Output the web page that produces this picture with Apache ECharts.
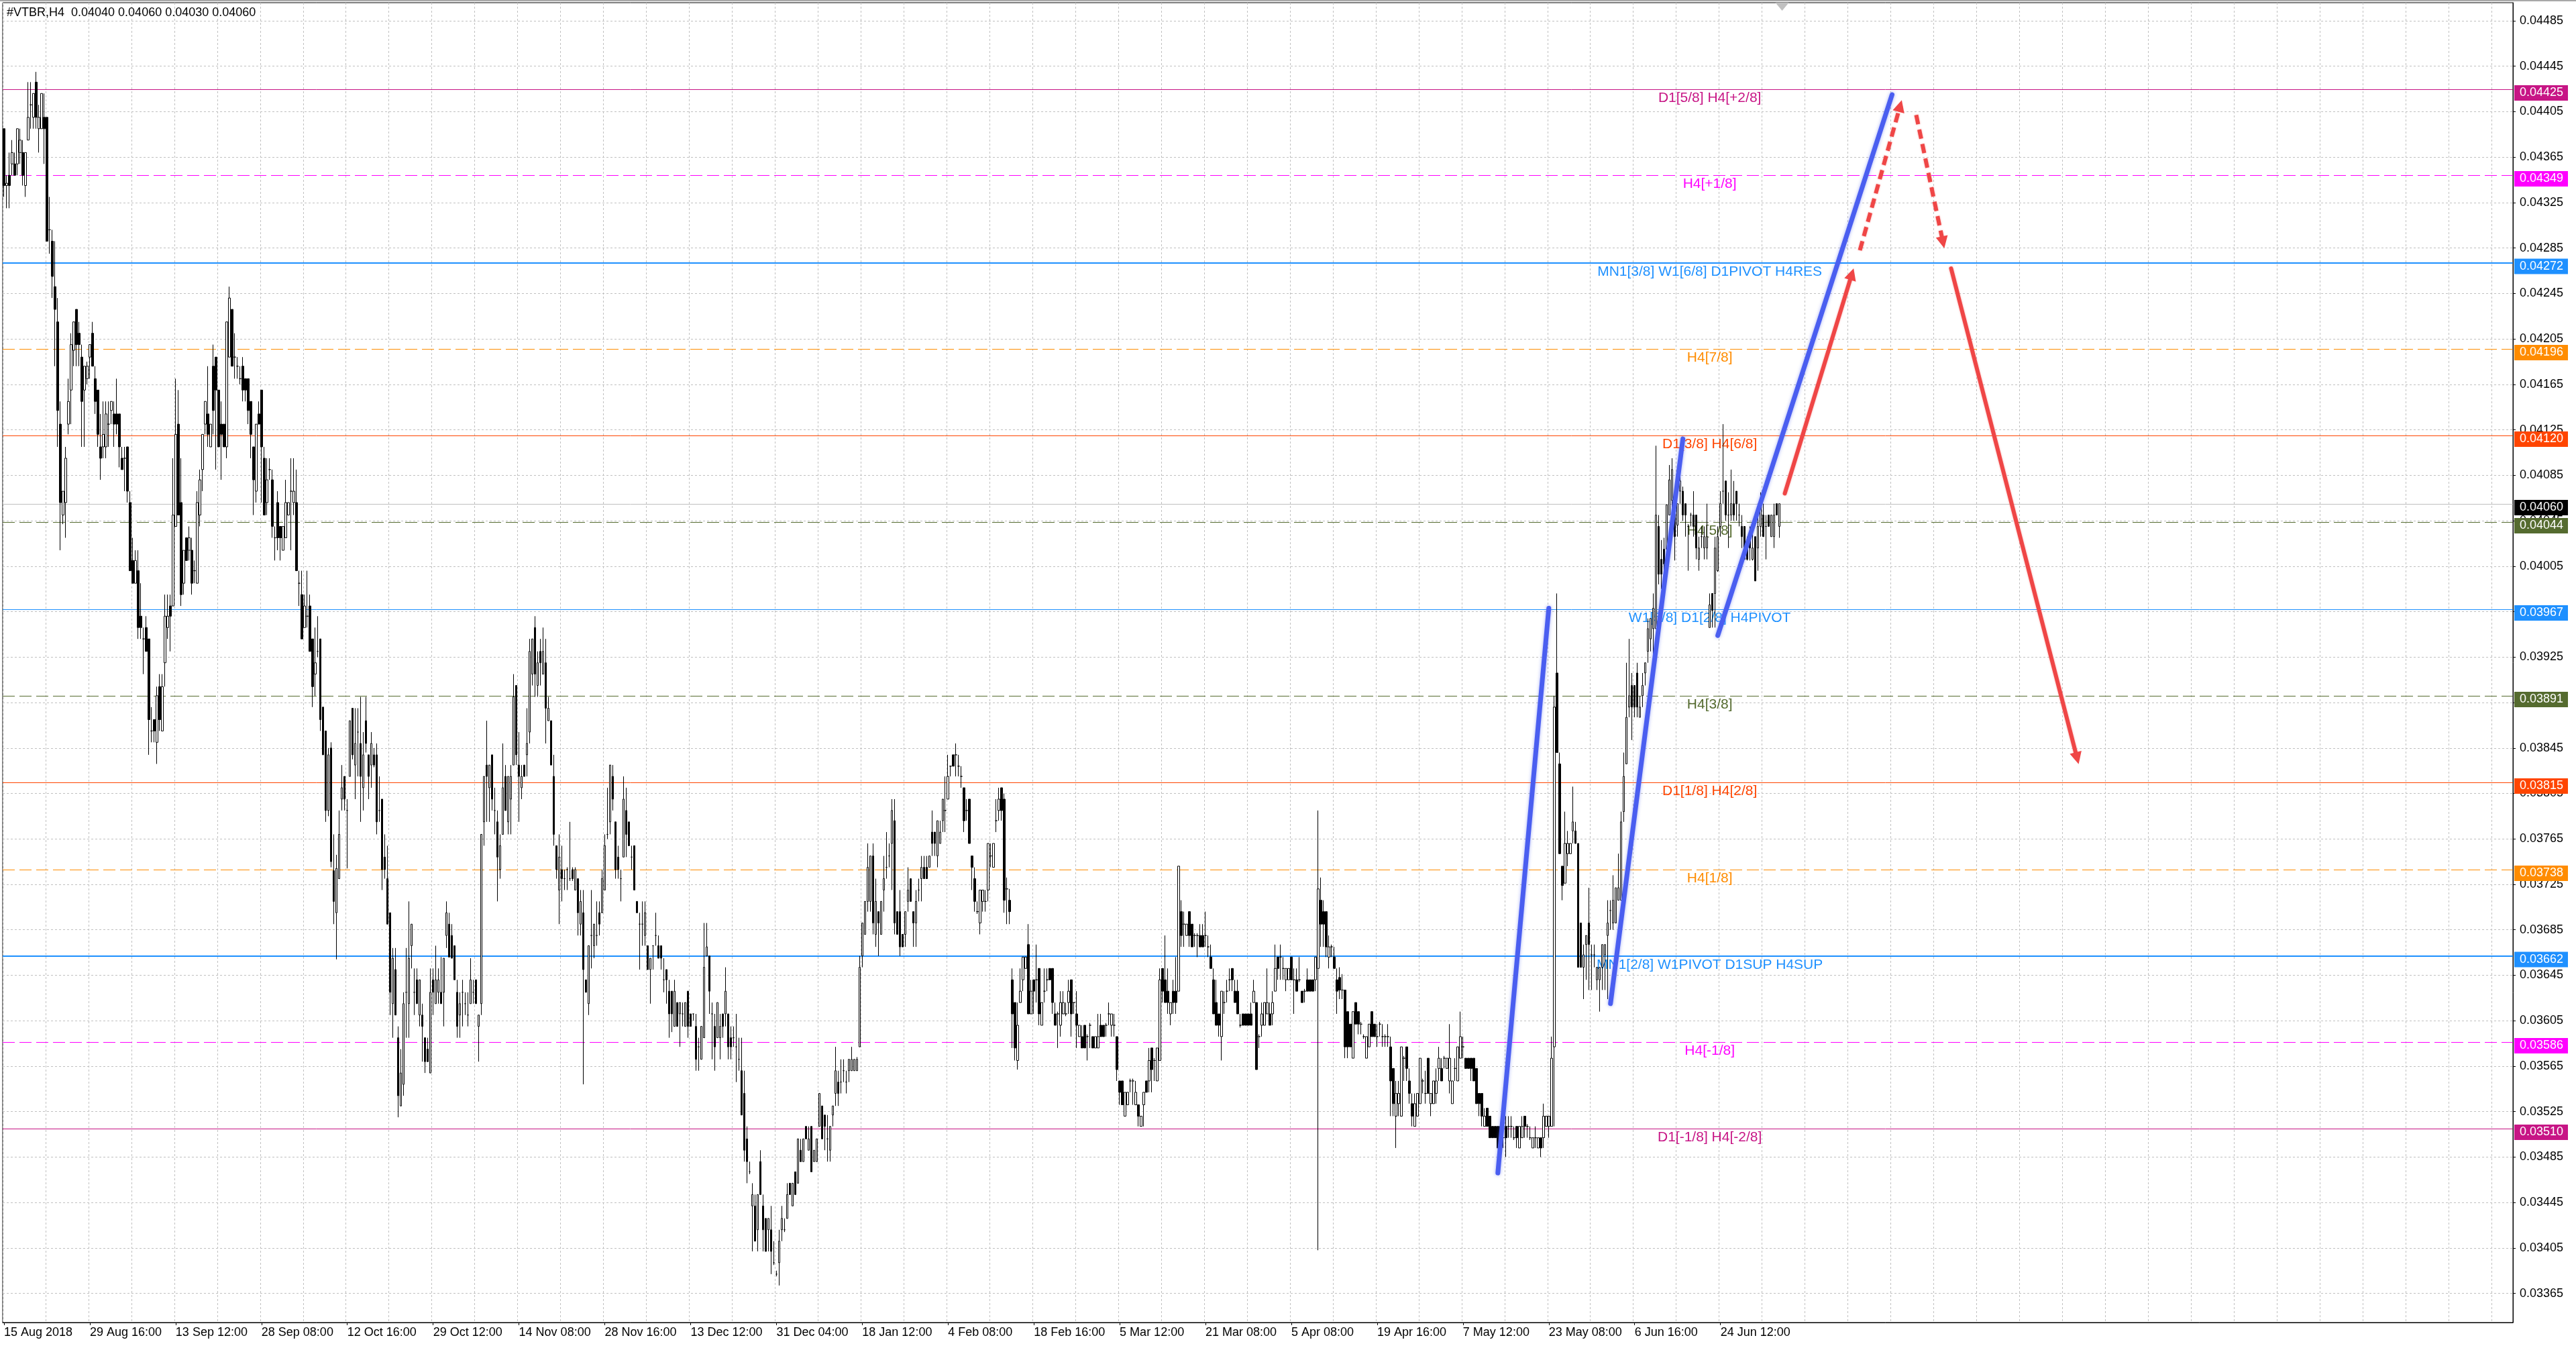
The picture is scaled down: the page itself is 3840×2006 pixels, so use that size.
<!DOCTYPE html>
<html>
<head>
<meta charset="utf-8">
<title>#VTBR,H4</title>
<script src="https://cdn.jsdelivr.net/npm/echarts@6/dist/echarts.min.js"></script>
<style>
  html, body { margin: 0; padding: 0; background: #fff; }
  #chart { width: 3840px; height: 2006px; }
  #frame { position: absolute; left: 0; top: 0; width: 3840px; height: 2px; background: #a8a8a8; }
</style>
</head>
<body>
<div id="chart"></div>
<div id="frame"></div>
<script>
// H4 bars, prices in units of 0.00001 (4040 = 0.04040)
const barOpen = [
  4390,4340,4349,4359,4359,4359,4369,4369,4340,4380,
  4411,4400,4431,4390,4390,4400,4400,4301,4291,4251,
  4220,4130,4050,4061,4130,4160,4195,4231,4210,4189,
  4160,4170,4189,4210,4170,4160,4110,4110,4110,4130,
  4142,4139,4139,4139,4100,4100,4110,4061,4010,3990,
  4001,3961,3941,3951,3941,3860,3870,3850,3899,3860,
  3920,3951,3970,3970,4040,4130,4061,3990,4030,4019,
  4019,4001,3990,4050,4090,4130,4139,4110,4181,4189,
  4160,4130,4130,4110,4189,4231,4189,4181,4170,4181,
  4170,4170,4150,4110,4071,4139,4160,4100,4061,4090,
  4081,4030,4061,4040,4019,4030,4050,4071,4061,4061,
  3990,3980,3951,3961,3970,3941,3910,3930,3941,3881,
  3860,3790,3845,3737,3700,3730,3800,3820,3790,3820,
  3880,3830,3859,3849,3810,3869,3839,3830,3839,3839,
  3790,3800,3749,3730,3700,3620,3650,3590,3530,3549,
  3630,3620,3671,3630,3641,3610,3610,3590,3580,3559,
  3641,3620,3630,3630,3630,3680,3690,3680,3671,3630,
  3610,3630,3620,3610,3620,3630,3641,3600,3620,3780,
  3830,3810,3839,3790,3780,3738,3769,3820,3780,3800,
  3830,3900,3830,3810,3830,3839,3859,3910,3951,3900,
  3930,3910,3920,3869,3869,3820,3759,3720,3738,3730,
  3738,3730,3738,3720,3730,3690,3700,3641,3620,3680,
  3671,3680,3700,3700,3720,3769,3780,3820,3780,3749,
  3730,3749,3790,3780,3749,3759,3710,3690,3690,3680,
  3671,3650,3671,3680,3671,3671,3641,3650,3631,3631,
  3600,3621,3611,3611,3600,3631,3611,3611,3600,3582,
  3571,3590,3662,3662,3611,3600,3590,3590,3611,3611,
  3611,3590,3590,3582,3571,3561,3541,3501,3472,3442,
  3442,3421,3481,3442,3431,3421,3421,3392,3382,3392,
  3421,3421,3431,3462,3442,3472,3462,3491,3481,3512,
  3491,3512,3481,3481,3512,3530,3522,3501,3491,3522,
  3541,3551,3551,3561,3551,3561,3561,3561,3561,3582,
  3662,3681,3710,3710,3750,3681,3701,3681,3720,3740,
  3750,3761,3781,3701,3701,3681,3681,3710,3730,3701,
  3691,3720,3730,3740,3740,3740,3771,3771,3750,3761,
  3781,3790,3800,3829,3839,3839,3829,3820,3810,3790,
  3800,3750,3730,3701,3691,3710,3710,3720,3750,3740,
  3781,3790,3810,3800,3721,3711,3641,3621,3570,3621,
  3641,3651,3672,3611,3641,3641,3651,3601,3631,3641,
  3651,3651,3611,3611,3601,3611,3611,3621,3641,3621,
  3611,3591,3591,3601,3591,3601,3591,3581,3581,3601,
  3601,3601,3611,3601,3601,3591,3552,3552,3521,3531,
  3552,3552,3531,3531,3512,3531,3552,3552,3581,3570,
  3552,3570,3651,3641,3631,3611,3631,3631,3631,3701,
  3690,3680,3701,3690,3680,3680,3680,3680,3680,3670,
  3661,3641,3621,3611,3591,3621,3631,3641,3651,3631,
  3631,3601,3611,3611,3611,3611,3621,3621,3591,3601,
  3601,3611,3611,3611,3631,3661,3661,3651,3641,3641,
  3661,3641,3641,3641,3631,3631,3641,3641,3641,3641,
  3651,3711,3701,3701,3661,3670,3661,3641,3643,3632,
  3632,3613,3602,3572,3621,3613,3602,3591,3572,3582,
  3613,3602,3591,3602,3591,3591,3591,3582,3563,3521,
  3532,3521,3572,3582,3552,3532,3512,3521,3532,3552,
  3541,3572,3532,3532,3541,3563,3563,3572,3563,3552,
  3532,3563,3552,3572,3582,3572,3572,3572,3572,3563,
  3541,3541,3512,3528,3521,3512,3512,3512,3512,3502,
  3512,3512,3512,3502,3512,3493,3502,3521,3512,3502,
  3493,3502,3493,3502,3502,3512,3512,3512,3582,3911,
  3831,3741,3726,3752,3752,3772,3772,3761,3691,3652,
  3672,3691,3663,3663,3641,3641,3652,3663,3680,3702,
  3691,3691,3711,3711,3789,3831,3881,3900,3900,3911,
  3872,3891,3911,3930,3941,3950,3950,4040,4011,4020,
  4020,4050,4063,4060,4041,4071,4071,4060,4040,4050,
  4050,4050,4011,4031,4021,4021,3951,3981,3981,4001,
  4040,4071,4080,4050,4050,4060,4071,4050,4040,4040,
  4021,4031,4011,4031,4021,4040,4050,4040,4050,4031,
  4031,4060,4040
];
const barClose = [
  4340,4342,4340,4369,4349,4390,4380,4349,4369,4400,
  4411,4421,4400,4400,4421,4390,4291,4301,4260,4231,
  4142,4061,4071,4100,4150,4200,4220,4200,4200,4150,
  4181,4181,4200,4181,4150,4121,4100,4121,4139,4130,
  4150,4130,4130,4110,4090,4100,4071,4001,3990,4010,
  3951,3951,3941,3930,3870,3860,3860,3891,3870,3899,
  3961,3961,3961,4050,4121,4050,3980,4019,4010,4030,
  3990,4001,4061,4081,4121,4150,4121,4130,4142,4160,
  4110,4121,4110,4220,4241,4181,4189,4181,4170,4160,
  4160,4142,4121,4081,4130,4130,4110,4050,4081,4090,
  4040,4030,4030,4030,4040,4061,4061,4071,4071,4001,
  3990,3941,3970,3961,3930,3899,3920,3930,3870,3839,
  3790,3839,3745,3710,3739,3769,3810,3800,3790,3869,
  3839,3849,3859,3820,3839,3849,3820,3849,3830,3780,
  3790,3738,3738,3690,3630,3660,3610,3539,3559,3620,
  3630,3660,3690,3630,3620,3641,3600,3569,3569,3630,
  3630,3641,3641,3620,3660,3700,3661,3660,3641,3600,
  3620,3630,3620,3610,3641,3630,3620,3610,3769,3820,
  3820,3830,3800,3790,3749,3759,3810,3790,3820,3820,
  3890,3839,3820,3820,3820,3849,3930,3941,3910,3920,
  3920,3930,3880,3880,3830,3769,3738,3749,3730,3730,
  3738,3730,3730,3738,3700,3710,3650,3630,3671,3680,
  3690,3680,3690,3730,3759,3769,3830,3800,3738,3738,
  3730,3800,3769,3759,3749,3720,3700,3690,3690,3700,
  3650,3660,3671,3680,3660,3660,3641,3641,3611,3611,
  3631,3600,3621,3611,3621,3600,3600,3611,3571,3582,
  3600,3652,3670,3631,3611,3582,3621,3600,3600,3631,
  3582,3582,3590,3582,3571,3522,3491,3481,3472,3452,
  3411,3452,3452,3421,3402,3431,3402,3392,3382,3411,
  3431,3421,3452,3452,3462,3452,3501,3481,3501,3501,
  3501,3472,3491,3501,3541,3501,3512,3501,3512,3530,
  3561,3541,3551,3561,3551,3571,3571,3571,3571,3652,
  3691,3710,3740,3750,3691,3710,3691,3710,3730,3740,
  3750,3790,3691,3681,3670,3670,3701,3720,3710,3691,
  3710,3720,3740,3730,3730,3750,3761,3761,3781,3771,
  3800,3790,3820,3829,3829,3839,3829,3820,3781,3790,
  3761,3740,3710,3701,3720,3720,3710,3761,3750,3761,
  3781,3800,3790,3711,3721,3701,3611,3581,3601,3631,
  3661,3661,3611,3631,3631,3641,3611,3621,3631,3641,
  3641,3621,3601,3611,3621,3621,3611,3631,3611,3621,
  3601,3601,3581,3581,3591,3601,3581,3591,3591,3591,
  3591,3601,3611,3611,3601,3562,3542,3531,3542,3542,
  3552,3552,3542,3521,3521,3542,3542,3570,3562,3570,
  3581,3641,3631,3621,3621,3621,3621,3621,3741,3680,
  3690,3690,3680,3670,3680,3680,3670,3670,3680,3670,
  3651,3611,3601,3601,3631,3621,3631,3641,3641,3621,
  3611,3601,3601,3601,3601,3601,3631,3562,3591,3611,
  3621,3621,3601,3621,3651,3651,3661,3651,3651,3651,
  3641,3641,3631,3641,3621,3631,3631,3631,3631,3661,
  3721,3690,3690,3670,3670,3670,3651,3631,3632,3632,
  3582,3582,3582,3613,3602,3602,3602,3591,3591,3602,
  3591,3591,3591,3602,3591,3591,3591,3552,3532,3541,
  3541,3582,3572,3563,3541,3521,3532,3541,3572,3552,
  3541,3541,3541,3552,3552,3572,3552,3572,3572,3572,
  3552,3563,3582,3591,3582,3563,3563,3563,3552,3532,
  3532,3521,3521,3512,3502,3502,3502,3493,3502,3502,
  3502,3512,3512,3502,3502,3512,3512,3512,3512,3502,
  3502,3502,3502,3493,3521,3521,3521,3572,3881,3841,
  3752,3724,3761,3761,3761,3780,3761,3652,3652,3663,
  3680,3672,3663,3663,3652,3652,3672,3672,3691,3702,
  3711,3722,3722,3780,3820,3872,3891,3881,3881,3881,
  3881,3900,3920,3950,3959,3968,4050,3998,3998,4007,
  4059,4081,4090,4031,4060,4080,4050,4050,4040,4050,
  4040,4021,4021,4031,4031,4031,3971,3966,4021,4031,
  4060,4071,4050,4050,4060,4050,4060,4050,4031,4011,
  4011,4021,4021,3992,4040,4060,4031,4040,4040,4050,
  4050,4050,4060
];
const barHigh = [
  4390,4349,4369,4380,4369,4390,4390,4380,4369,4431,
  4431,4421,4440,4411,4421,4421,4400,4330,4301,4291,
  4241,4150,4071,4110,4170,4210,4220,4231,4220,4200,
  4181,4185,4200,4220,4181,4160,4139,4150,4150,4150,
  4150,4150,4170,4139,4110,4110,4110,4071,4030,4019,
  4019,3990,3951,3961,3941,3881,3870,3899,3910,3910,
  3980,3980,3980,4100,4170,4160,4100,4019,4030,4040,
  4030,4010,4071,4090,4121,4150,4181,4130,4200,4189,
  4160,4150,4130,4220,4251,4231,4210,4189,4181,4189,
  4170,4170,4150,4110,4130,4150,4160,4110,4100,4100,
  4090,4040,4071,4040,4040,4081,4061,4100,4100,4090,
  4001,4001,3980,4001,3980,3941,3951,3961,3941,3881,
  3860,3845,3850,3769,3751,3790,3830,3820,3800,3869,
  3880,3880,3880,3890,3859,3890,3839,3859,3845,3849,
  3820,3800,3769,3759,3700,3669,3669,3600,3580,3630,
  3669,3710,3690,3651,3651,3641,3620,3590,3590,3651,
  3651,3671,3651,3661,3660,3710,3700,3690,3671,3641,
  3630,3641,3630,3630,3660,3641,3641,3610,3769,3820,
  3869,3830,3839,3810,3790,3769,3849,3830,3820,3830,
  3910,3900,3859,3830,3830,3880,3941,3941,3961,3930,
  3941,3951,3941,3890,3869,3839,3759,3769,3759,3738,
  3740,3780,3740,3740,3730,3720,3720,3641,3671,3720,
  3690,3710,3710,3738,3769,3810,3830,3830,3780,3759,
  3738,3820,3810,3780,3759,3759,3710,3700,3710,3710,
  3671,3660,3671,3700,3680,3671,3660,3650,3641,3631,
  3641,3621,3621,3621,3621,3631,3611,3611,3611,3590,
  3600,3691,3691,3662,3621,3611,3621,3611,3611,3652,
  3611,3600,3600,3611,3590,3590,3561,3512,3481,3462,
  3452,3452,3491,3452,3431,3431,3442,3411,3385,3421,
  3442,3431,3462,3462,3462,3472,3501,3501,3501,3512,
  3512,3512,3491,3501,3541,3530,3522,3522,3512,3530,
  3582,3561,3571,3571,3561,3571,3582,3571,3573,3662,
  3691,3710,3761,3750,3761,3730,3701,3710,3750,3771,
  3761,3800,3800,3701,3720,3681,3701,3740,3730,3701,
  3720,3730,3750,3750,3750,3750,3790,3771,3781,3781,
  3800,3820,3839,3829,3839,3849,3839,3829,3810,3800,
  3800,3750,3740,3710,3720,3720,3720,3761,3761,3761,
  3800,3810,3810,3805,3731,3721,3651,3621,3621,3651,
  3661,3661,3690,3641,3641,3672,3651,3621,3651,3651,
  3651,3651,3621,3613,3631,3631,3621,3641,3641,3621,
  3631,3601,3601,3601,3593,3603,3591,3591,3611,3611,
  3601,3603,3621,3611,3611,3591,3552,3552,3542,3542,
  3554,3554,3552,3531,3521,3542,3552,3581,3581,3572,
  3581,3651,3651,3680,3651,3621,3641,3661,3741,3711,
  3701,3690,3701,3690,3682,3682,3690,3690,3701,3680,
  3672,3651,3641,3611,3631,3631,3641,3651,3651,3641,
  3641,3611,3611,3611,3611,3621,3641,3621,3593,3621,
  3621,3651,3621,3631,3672,3661,3672,3661,3651,3651,
  3661,3651,3651,3661,3631,3633,3651,3641,3641,3661,
  3790,3731,3711,3701,3680,3672,3670,3651,3652,3646,
  3632,3613,3602,3613,3621,3613,3604,3593,3591,3602,
  3613,3602,3602,3604,3602,3593,3602,3591,3563,3552,
  3552,3582,3574,3582,3563,3541,3541,3541,3572,3554,
  3561,3572,3541,3552,3563,3582,3572,3574,3572,3602,
  3552,3572,3582,3613,3591,3572,3572,3572,3572,3563,
  3541,3541,3528,3528,3521,3512,3512,3512,3512,3521,
  3521,3521,3521,3512,3512,3512,3521,3521,3514,3512,
  3502,3512,3502,3502,3532,3521,3521,3591,3891,3981,
  3841,3741,3789,3772,3761,3811,3780,3761,3691,3672,
  3680,3722,3672,3672,3652,3652,3672,3672,3711,3711,
  3733,3722,3752,3789,3841,3920,3941,3911,3900,3920,
  3891,3911,3920,3959,3959,3981,4111,4050,4028,4030,
  4059,4094,4100,4065,4060,4090,4075,4060,4042,4052,
  4071,4050,4031,4040,4040,4060,3981,3981,4031,4040,
  4071,4130,4080,4070,4090,4080,4071,4060,4050,4040,
  4031,4040,4040,4031,4060,4070,4060,4050,4050,4050,
  4060,4060,4060
];
const barLow = [
  4330,4320,4320,4349,4349,4349,4359,4340,4330,4380,
  4390,4390,4390,4369,4390,4359,4291,4280,4241,4181,
  4110,4019,4042,4030,4121,4130,4181,4181,4181,4110,
  4110,4165,4170,4181,4139,4110,4081,4100,4100,4110,
  4130,4110,4121,4092,4090,4071,4061,4001,3990,3990,
  3941,3941,3910,3930,3839,3850,3850,3831,3860,3860,
  3899,3941,3930,3970,4040,4050,3970,3980,4010,4010,
  3980,3990,3990,4040,4071,4121,4110,4110,4121,4090,
  4110,4081,4110,4100,4189,4181,4170,4170,4165,4150,
  4150,4130,4100,4050,4061,4130,4061,4050,4050,4081,
  4030,4010,4019,4010,4019,4030,4050,4019,4050,4001,
  3970,3941,3951,3951,3930,3881,3891,3925,3860,3839,
  3780,3785,3740,3690,3659,3730,3790,3790,3739,3820,
  3835,3800,3820,3780,3790,3841,3800,3810,3828,3769,
  3780,3720,3730,3690,3610,3590,3610,3520,3530,3539,
  3590,3590,3651,3610,3620,3600,3569,3559,3569,3559,
  3610,3620,3620,3620,3600,3669,3661,3660,3641,3590,
  3590,3600,3610,3600,3620,3620,3620,3569,3610,3759,
  3780,3780,3790,3769,3710,3730,3769,3790,3769,3769,
  3830,3830,3780,3800,3820,3820,3849,3900,3890,3890,
  3900,3910,3849,3869,3830,3759,3730,3690,3710,3720,
  3720,3728,3728,3720,3680,3680,3549,3630,3610,3651,
  3660,3671,3680,3700,3720,3765,3769,3790,3730,3730,
  3710,3749,3749,3759,3738,3720,3700,3650,3671,3671,
  3650,3620,3650,3671,3660,3650,3630,3620,3590,3595,
  3600,3600,3582,3600,3600,3590,3600,3605,3561,3561,
  3571,3590,3662,3611,3571,3561,3590,3571,3590,3600,
  3571,3571,3582,3551,3561,3522,3481,3462,3470,3402,
  3411,3402,3452,3402,3402,3402,3382,3390,3380,3372,
  3411,3419,3431,3452,3442,3452,3462,3481,3481,3501,
  3491,3472,3481,3481,3512,3501,3491,3481,3481,3512,
  3530,3530,3541,3551,3541,3551,3561,3561,3561,3582,
  3652,3681,3701,3701,3681,3670,3662,3681,3701,3730,
  3740,3720,3681,3681,3662,3670,3670,3701,3710,3670,
  3670,3710,3710,3730,3730,3740,3750,3750,3740,3761,
  3771,3771,3800,3820,3829,3820,3820,3810,3771,3781,
  3761,3720,3701,3699,3681,3701,3701,3710,3740,3740,
  3771,3781,3781,3700,3690,3690,3581,3570,3562,3621,
  3631,3651,3611,3611,3611,3621,3601,3601,3621,3631,
  3641,3611,3601,3581,3591,3611,3609,3611,3591,3611,
  3581,3591,3581,3581,3570,3581,3581,3581,3581,3591,
  3591,3591,3601,3591,3591,3552,3531,3531,3521,3531,
  3542,3531,3531,3512,3512,3512,3542,3542,3542,3552,
  3552,3570,3621,3621,3611,3601,3611,3611,3631,3670,
  3670,3680,3670,3670,3670,3661,3670,3670,3670,3661,
  3651,3611,3601,3591,3570,3611,3621,3631,3631,3621,
  3611,3599,3601,3601,3601,3601,3621,3562,3581,3591,
  3601,3611,3601,3601,3631,3641,3641,3641,3631,3641,
  3641,3611,3631,3639,3621,3621,3631,3631,3631,3631,
  3403,3670,3670,3661,3651,3661,3651,3611,3624,3624,
  3572,3572,3582,3572,3602,3593,3593,3589,3572,3582,
  3591,3591,3582,3591,3582,3582,3582,3521,3521,3493,
  3521,3521,3552,3552,3532,3512,3512,3521,3532,3541,
  3532,3541,3521,3532,3532,3552,3552,3563,3563,3541,
  3532,3552,3552,3572,3572,3563,3563,3552,3552,3532,
  3521,3512,3512,3512,3502,3502,3502,3493,3493,3493,
  3485,3502,3502,3500,3493,3493,3502,3502,3502,3500,
  3493,3493,3493,3485,3493,3512,3502,3512,3512,3841,
  3752,3711,3726,3741,3752,3761,3761,3652,3652,3624,
  3641,3632,3632,3652,3632,3613,3632,3632,3624,3685,
  3685,3691,3711,3711,3780,3831,3872,3852,3872,3872,
  3872,3881,3900,3920,3930,3920,3950,3989,3985,4000,
  4007,4050,4050,4010,4031,4060,4045,4031,4001,4040,
  4031,4011,4001,4021,4011,4011,3951,3951,3951,4000,
  4031,4060,4045,4021,4045,4045,4045,4040,4021,4011,
  4010,4010,4010,3992,4001,4031,4031,4011,4040,4031,
  4021,4050,4030
];

// time labels, one every 32 bars
const xTickLabels = [
  '15 Aug 2018', '29 Aug 16:00', '13 Sep 12:00', '28 Sep 08:00', '12 Oct 16:00',
  '29 Oct 12:00', '14 Nov 08:00', '28 Nov 16:00', '13 Dec 12:00', '31 Dec 04:00',
  '18 Jan 12:00', '4 Feb 08:00', '18 Feb 16:00', '5 Mar 12:00', '21 Mar 08:00',
  '5 Apr 08:00', '19 Apr 16:00', '7 May 12:00', '23 May 08:00', '6 Jun 16:00',
  '24 Jun 12:00'
];

// price scale ticks
const yTickValues = [
  0.03365, 0.03405, 0.03445, 0.03485, 0.03525, 0.03565, 0.03605, 0.03645,
  0.03685, 0.03725, 0.03765, 0.03805, 0.03845, 0.03885, 0.03925, 0.03965,
  0.04005, 0.04045, 0.04085, 0.04125, 0.04165, 0.04205, 0.04245, 0.04285,
  0.04325, 0.04365, 0.04405, 0.04445, 0.04485
];

// Murrey math levels
const levelPrices = [0.04425, 0.04349, 0.04272, 0.04196, 0.04120, 0.04044, 0.03967,
                     0.03891, 0.03815, 0.03738, 0.03662, 0.03586, 0.03510];
const levelNames = [
  'D1[5/8] H4[+2/8]', 'H4[+1/8]', 'MN1[3/8] W1[6/8] D1PIVOT H4RES', 'H4[7/8]',
  'D1[3/8] H4[6/8]', 'H4[5/8]', 'W1[5/8] D1[2/8] H4PIVOT', 'H4[3/8]',
  'D1[1/8] H4[2/8]', 'H4[1/8]', 'MN1[2/8] W1PIVOT D1SUP H4SUP', 'H4[-1/8]',
  'D1[-1/8] H4[-2/8]'
];
const levelColors = ['#C71585', '#FF00FF', '#1E90FF', '#FF8C00', '#FF4500', '#556B2F', '#1E90FF',
                     '#556B2F', '#FF4500', '#FF8C00', '#1E90FF', '#FF00FF', '#C71585'];
const levelDashed = [false, true, false, true, false, true, false, true, false, true, false, true, false];
const levelWidths = [1, 1, 2, 1, 1, 1, 1, 1, 1, 1, 2, 1, 1];

const bidPrice = 0.04060;

// hand drawn lines: [bar from, price from, bar to, price to]
const trendLines = [
  [557, 0.03471, 576, 0.03968],
  [599, 0.03620, 626, 0.04117],
  [639, 0.03944, 704, 0.04420]
];
const arrowsSolid = [
  [664, 0.04069, 689, 0.04262],
  [726, 0.04267, 773, 0.03836]
];
const arrowsDashed = [
  [692, 0.04283, 707, 0.04410],
  [713, 0.04402, 723, 0.04290]
];

const TOTAL_BARS = 936;   // bar slots across the whole window, incl. the empty shift area
const LABEL_STEP = 32;
const GRID_STEP = 16;
const LABEL_BAR = 636;    // where the level captions are centred
const FONT = '"Liberation Sans", Arial, sans-serif';

const toPrice = v => v / 100000;
const candles = barOpen.map((o, i) => {
  const c = barClose[i];
  return [toPrice(o), toPrice(c),
          toPrice(Math.min(barLow[i], o, c)), toPrice(Math.max(barHigh[i], o, c))];
});
const last = candles[candles.length - 1];
const titleText = '#VTBR,H4  ' + [last[0], last[3], last[2], last[1]].map(v => v.toFixed(5)).join(' ');
const slots = Array.from({ length: TOTAL_BARS }, (_, i) => String(i));

const labelShown = i => i % LABEL_STEP === 0 && i / LABEL_STEP < xTickLabels.length;
const dotted = { color: '#c0c0c0', width: 1, type: [3, 3] };

// price tag on the right scale, sits a little below its line like in MT4
function priceTag(right, y, fill, text) {
  return [
    { type: 'rect', shape: { x: right + 2, y: y - 6.5, width: 80, height: 23 }, style: { fill: fill } },
    { type: 'text', style: { text: text, x: right + 10, y: y + 5, verticalAlign: 'middle',
      fill: '#fff', font: '18px ' + FONT } }
  ];
}

function levelItem(params, api) {
  const k = api.value(2);
  const pt = api.coord([api.value(0), api.value(1)]);
  const cs = params.coordSys;
  const right = cs.x + cs.width;
  const y = Math.round(pt[1]) + (levelWidths[k] % 2 ? 0.5 : 0);
  const color = levelColors[k];
  return {
    type: 'group',
    children: [
      { type: 'line', shape: { x1: cs.x, y1: y, x2: right, y2: y },
        style: { stroke: color, lineWidth: levelWidths[k], lineDash: levelDashed[k] ? [18, 7] : null } },
      { type: 'text', style: { text: levelNames[k], x: pt[0], y: y + 13, align: 'center',
        verticalAlign: 'middle', fill: color, font: '21px ' + FONT } }
    ].concat(priceTag(right, y, color, levelPrices[k].toFixed(5)))
  };
}

function bidItem(params, api) {
  const pt = api.coord([api.value(0), api.value(1)]);
  const cs = params.coordSys;
  const right = cs.x + cs.width;
  const y = Math.round(pt[1]) + 0.5;
  return {
    type: 'group',
    children: [
      { type: 'line', shape: { x1: cs.x, y1: y, x2: right, y2: y }, style: { stroke: '#c0c0c0', lineWidth: 1 } },
      // chart shift marker
      { type: 'polygon', shape: { points: [[pt[0] - 10, cs.y], [pt[0] + 10, cs.y], [pt[0], cs.y + 12]] },
        style: { fill: '#c0c0c0' } }
    ].concat(priceTag(right, y, '#000', bidPrice.toFixed(5)))
  };
}

const toLines = arr => arr.map(t => ({ coords: [[t[0], t[1]], [t[2], t[3]]] }));

const chart = echarts.init(document.getElementById('chart'));
const option = {
  animation: false,
  backgroundColor: '#fff',
  textStyle: { fontFamily: FONT },
  title: {
    text: titleText, left: 10, top: 10, padding: 0,
    textStyle: { fontSize: 18, fontWeight: 'normal', color: '#000', fontFamily: FONT }
  },
  grid: { left: 4, top: 4, width: 3742, height: 1967, show: true, borderColor: '#000', borderWidth: 1 },
  xAxis: {
    type: 'category',
    data: slots,
    boundaryGap: true,
    axisLine: { lineStyle: { color: '#000', width: 1 } },
    axisTick: { show: true, alignWithLabel: true, length: 4, interval: labelShown, lineStyle: { color: '#000' } },
    axisLabel: {
      interval: labelShown,
      formatter: (v, i) => xTickLabels[i / LABEL_STEP] || '',
      align: 'left', margin: 6, color: '#000', fontSize: 18, fontFamily: FONT
    },
    splitLine: { show: true, interval: i => i % GRID_STEP === 0, lineStyle: dotted }
  },
  yAxis: {
    type: 'value',
    position: 'right',
    min: 0.033394,
    max: 0.045009,
    axisLine: { show: true, lineStyle: { color: '#000', width: 1 } },
    axisTick: { show: true, length: 4, customValues: yTickValues, lineStyle: { color: '#000' } },
    axisLabel: {
      customValues: yTickValues,
      formatter: v => v.toFixed(5),
      margin: 10, color: '#000', fontSize: 18, fontFamily: FONT
    },
    splitLine: { show: true, lineStyle: dotted }
  },
  series: [
    {
      type: 'custom', name: 'levels', z: 2, clip: false, silent: true,
      data: levelPrices.map((p, i) => [LABEL_BAR, p, i]),
      encode: { x: 0, y: 1 },
      renderItem: levelItem
    },
    {
      type: 'custom', name: 'bid', z: 2, clip: false, silent: true,
      data: [[candles.length, bidPrice]],
      encode: { x: 0, y: 1 },
      renderItem: bidItem
    },
    {
      type: 'candlestick', name: 'VTBR', z: 3, silent: true,
      data: candles,
      barWidth: 3,
      large: false,
      itemStyle: {
        color: '#ffffff', color0: '#000000',
        borderColor: '#000000', borderColor0: '#000000', borderColorDoji: '#000000',
        borderWidth: 1
      }
    },
    {
      type: 'lines', coordinateSystem: 'cartesian2d', z: 4, silent: true,
      data: toLines(trendLines),
      symbol: 'none',
      lineStyle: { color: '#4a5ef0', width: 7, opacity: 1, cap: 'round',
                   shadowBlur: 5, shadowColor: 'rgba(74,94,240,0.5)' }
    },
    {
      type: 'lines', coordinateSystem: 'cartesian2d', z: 4, silent: true,
      data: toLines(arrowsSolid),
      symbol: ['none', 'triangle'], symbolSize: 18,
      lineStyle: { color: '#ef4646', width: 6, opacity: 1, cap: 'round',
                   shadowBlur: 3, shadowColor: 'rgba(239,70,70,0.4)' }
    },
    {
      type: 'lines', coordinateSystem: 'cartesian2d', z: 4, silent: true,
      data: toLines(arrowsDashed),
      symbol: ['none', 'triangle'], symbolSize: 18,
      lineStyle: { color: '#ef4646', width: 6, opacity: 1, type: [14, 8],
                   shadowBlur: 3, shadowColor: 'rgba(239,70,70,0.4)' }
    }
  ]
};
chart.setOption(option);
</script>
</body>
</html>
